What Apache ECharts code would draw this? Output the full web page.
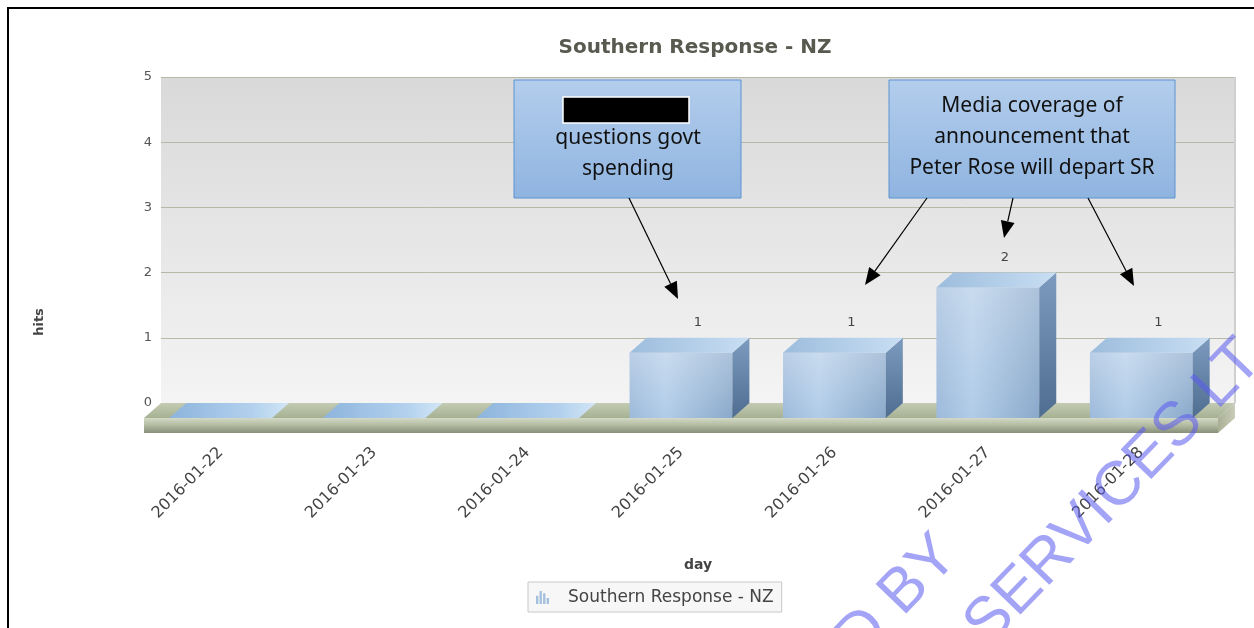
<!DOCTYPE html>
<html>
<head>
<meta charset="utf-8">
<script src="https://cdn.jsdelivr.net/npm/echarts@6/dist/echarts.min.js"></script>
<style>
  html, body { margin: 0; padding: 0; background: #fff; }
  #chart { width: 1254px; height: 628px; }
</style>
</head>
<body>
<div id="chart"></div>
<script>
var categories = ['2016-01-22', '2016-01-23', '2016-01-24', '2016-01-25', '2016-01-26', '2016-01-27', '2016-01-28']
var hits = [0, 0, 0, 1, 1, 2, 1]
var yTicks = [0, 1, 2, 3, 4, 5]
var seriesName = 'Southern Response - NZ'

// depth of the 3d look (front plane -> back wall)
var DX = 17, DY = -15
var FLOOR_H = 15

var chart = echarts.init(document.getElementById('chart'))

function lin(x2, y2, stops) {
  return new echarts.graphic.LinearGradient(0, 0, x2, y2, stops)
}

function renderBar(params, api) {
  var i = api.value(0)
  var v = api.value(1)
  var base = api.coord([i, 0])
  var top = api.coord([i, v])
  var w = api.size([1, 0])[0] * 0.67
  var x0 = base[0] - w / 2, x1 = base[0] + w / 2
  var yb = base[1], yt = top[1]
  var children = []
  if (v > 0) {
    children.push({
      type: 'rect',
      shape: { x: x0, y: yt, width: w, height: yb - yt },
      style: { fill: lin(1, 0, [{ offset: 0, color: '#9dbadb' }, { offset: 0.35, color: '#b1cce8' }, { offset: 1, color: '#8aa9cb' }]) }
    })
    children.push({
      type: 'rect',
      shape: { x: x0, y: yt, width: w, height: yb - yt },
      style: { fill: lin(0, 1, [{ offset: 0, color: 'rgba(255,255,255,0.3)' }, { offset: 1, color: 'rgba(255,255,255,0)' }]) }
    })
    children.push({
      type: 'polygon',
      shape: { points: [[x1, yt], [x1 + DX, yt + DY], [x1 + DX, yb + DY], [x1, yb]] },
      style: { fill: lin(0, 1, [{ offset: 0, color: '#7c9bbf' }, { offset: 1, color: '#4f6d91' }]) }
    })
    children.push({
      type: 'text',
      style: {
        x: base[0] + DX, y: yt + DY - 15, text: String(v),
        fill: '#444', font: '13px "DejaVu Sans"', textAlign: 'center', textVerticalAlign: 'middle'
      }
    })
  }
  children.push({
    type: 'polygon',
    shape: { points: [[x0, yt], [x1, yt], [x1 + DX, yt + DY], [x0 + DX, yt + DY]] },
    style: {
      fill: v > 0
        ? lin(1, 0, [{ offset: 0, color: '#9dbddd' }, { offset: 1, color: '#c8def3' }])
        : lin(1, 0, [{ offset: 0, color: '#8db4dc' }, { offset: 0.7, color: '#b3d1ee' }, { offset: 1, color: '#d3e6f5' }])
    }
  })
  return { type: 'group', children: children }
}

function renderFloor(params, api) {
  var cs = params.coordSys
  var x = cs.x, w = cs.width, yb = cs.y + cs.height
  return {
    type: 'group',
    children: [
      {
        type: 'polygon',
        shape: { points: [[x, yb], [x + w, yb], [x + w + DX, yb + DY], [x + DX, yb + DY]] },
        style: { fill: lin(0, 1, [{ offset: 0, color: '#c3cbb3' }, { offset: 1, color: '#a6b193' }]) }
      },
      {
        type: 'rect',
        shape: { x: x, y: yb, width: w, height: FLOOR_H },
        style: { fill: lin(0, 1, [{ offset: 0, color: '#d3d9c5' }, { offset: 0.45, color: '#b5bda4' }, { offset: 1, color: '#878f7a' }]) }
      },
      {
        type: 'polygon',
        shape: { points: [[x + w, yb], [x + w + DX, yb + DY], [x + w + DX, yb + DY + FLOOR_H], [x + w, yb + FLOOR_H]] },
        style: { fill: lin(1, 0, [{ offset: 0, color: '#a9af95' }, { offset: 1, color: '#c9ccb8' }]) }
      },
      {
        type: 'line',
        shape: { x1: x + w + DX, y1: cs.y + DY, x2: x + w + DX, y2: yb + DY },
        style: { stroke: '#cfcfcf', lineWidth: 2 }
      }
    ]
  }
}

function arrow(x1, y1, x2, y2) {
  var a = Math.atan2(y2 - y1, x2 - x1)
  var L = 17, W = 7
  var bx = x2 - L * Math.cos(a), by = y2 - L * Math.sin(a)
  return [
    { type: 'line', z: 50, shape: { x1: x1, y1: y1, x2: bx, y2: by }, style: { stroke: '#000', lineWidth: 1.2 } },
    {
      type: 'polygon', z: 50,
      shape: { points: [[x2, y2], [bx - W * Math.sin(a), by + W * Math.cos(a)], [bx + W * Math.sin(a), by - W * Math.cos(a)]] },
      style: { fill: '#000' }
    }
  ]
}

function boxText(text, x, y) {
  return {
    type: 'text', z: 51, x: x, y: y,
    style: { text: text, fill: '#111', font: '21px "Noto Sans"', textAlign: 'center', textVerticalAlign: 'middle' }
  }
}

function noteBox(x, y, w, h) {
  return {
    type: 'rect', z: 49,
    shape: { x: x, y: y, width: w, height: h },
    style: {
      fill: lin(0, 1, [{ offset: 0, color: '#b3cdec' }, { offset: 1, color: '#8fb4e0' }]),
      stroke: '#5d94d3', lineWidth: 1
    }
  }
}

var graphics = [
  { type: 'rect', z: 60, shape: { x: 8, y: 8, width: 1300, height: 700 }, style: { fill: 'none', stroke: '#000', lineWidth: 2 } },
  {
    type: 'text', x: 40, y: 322, rotation: Math.PI / 2,
    style: { text: 'hits', fill: '#444', font: 'bold 13px "DejaVu Sans"', textAlign: 'center', textVerticalAlign: 'middle' }
  },
  noteBox(514, 80, 227, 118),
  { type: 'rect', z: 50, shape: { x: 563, y: 97, width: 126, height: 26 }, style: { fill: '#000', stroke: '#fff', lineWidth: 1.5 } },
  boxText('questions govt', 628, 138),
  boxText('spending', 628, 169),
  noteBox(889, 80, 286, 118),
  boxText('Media coverage of', 1032, 106),
  boxText('announcement that', 1032, 137),
  boxText('Peter Rose will depart SR', 1032, 168),
  {
    type: 'text', z: 70, x: 948, y: 546, rotation: 46 * Math.PI / 180,
    style: { text: 'D BY', fill: 'rgba(90,90,240,0.55)', font: '62px "Liberation Sans"', textAlign: 'right', textVerticalAlign: 'middle' }
  },
  {
    type: 'text', z: 70, x: 976, y: 636, rotation: 46 * Math.PI / 180,
    style: { text: 'SERVICES LT', fill: 'rgba(90,90,240,0.55)', font: '62px "Liberation Sans"', textAlign: 'left', textVerticalAlign: 'middle' }
  }
].concat(
  arrow(629, 198, 678, 299),
  arrow(927, 198, 865, 285),
  arrow(1013, 198, 1004, 238),
  arrow(1088, 198, 1134, 286)
)

var option = {
  backgroundColor: '#fff',
  animation: false,
  title: {
    text: seriesName,
    left: 690, top: 33, textAlign: 'center',
    textStyle: { fontFamily: 'DejaVu Sans', fontWeight: 'bold', fontSize: 20, color: '#58594f' }
  },
  legend: {
    data: [{ name: seriesName, icon: 'path://M0,12V5H2V12ZM3,12V1H5V12ZM6,12V3H8V12ZM9,12V7H11V12Z' }],
    left: 528, top: 582,
    padding: [7, 8, 6, 8],
    itemWidth: 13, itemHeight: 14,
    borderColor: '#c8c8c8', borderWidth: 1, backgroundColor: '#f7f7f7',
    textStyle: { fontFamily: 'DejaVu Sans', fontSize: 17, color: '#444', padding: [0, 0, 0, 14] }
  },
  grid: [
    {
      // back wall
      left: 161, right: 19, top: 77, bottom: 225, show: true, borderWidth: 0,
      backgroundColor: lin(0, 1, [{ offset: 0, color: '#d9d9d9' }, { offset: 1, color: '#f4f4f4' }])
    },
    {
      // front plane
      left: 144, right: 36, top: 92, bottom: 210
    }
  ],
  xAxis: [
    {
      gridIndex: 0, type: 'category', data: categories,
      axisLine: { show: false }, axisTick: { show: false }, axisLabel: { show: false },
      name: 'day', nameLocation: 'middle', nameGap: 155,
      nameTextStyle: { fontFamily: 'DejaVu Sans', fontWeight: 'bold', fontSize: 14, color: '#444' }
    },
    {
      gridIndex: 1, type: 'category', data: categories,
      axisLine: { show: false }, axisTick: { show: false },
      axisLabel: { rotate: 45, margin: 32, color: '#444', fontFamily: 'DejaVu Sans', fontSize: 16 }
    }
  ],
  yAxis: [
    {
      gridIndex: 0, type: 'value', min: yTicks[0], max: yTicks[yTicks.length - 1], interval: 1,
      axisLine: { show: false }, axisTick: { show: false },
      axisLabel: { color: '#555', fontFamily: 'DejaVu Sans', fontSize: 13, margin: 9 },
      splitLine: { lineStyle: { color: '#b7b8a6', width: 1 } }
    },
    {
      gridIndex: 1, type: 'value', min: yTicks[0], max: yTicks[yTicks.length - 1], interval: 1,
      show: false
    }
  ],
  series: [
    {
      type: 'custom', name: 'floor', xAxisIndex: 1, yAxisIndex: 1, z: 1,
      data: [[0, 0]], renderItem: renderFloor, silent: true
    },
    {
      type: 'custom', name: seriesName, xAxisIndex: 1, yAxisIndex: 1, z: 2,
      itemStyle: { color: '#a4c0de' },
      encode: { x: 0, y: 1 },
      data: hits.map(function (v, i) { return [i, v] }),
      renderItem: renderBar
    }
  ],
  graphic: graphics
}

chart.setOption(option)
</script>
</body>
</html>
